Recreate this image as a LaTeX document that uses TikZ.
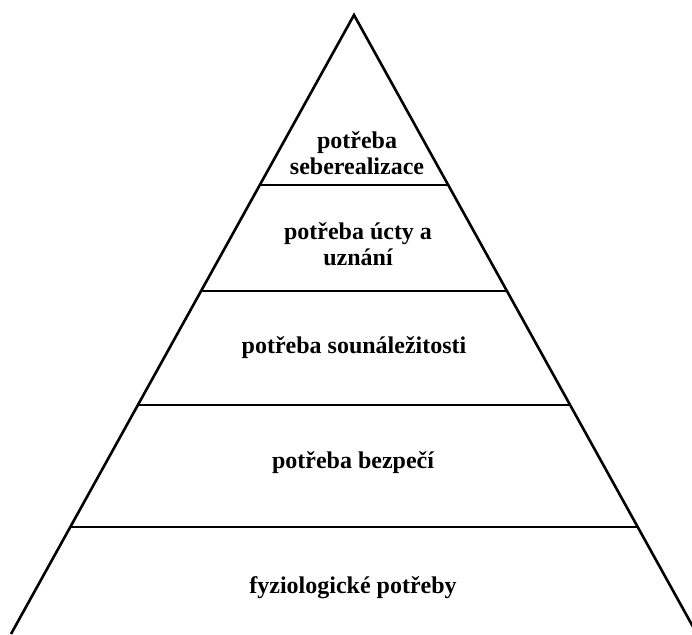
\documentclass[tikz,border=0pt]{standalone}
\usepackage{fontspec}
\setmainfont{Liberation Serif}
\usetikzlibrary{calc}
\tikzset{
  edge/.style={line width=2.6pt, black},
  level/.style={font=\bfseries\fontsize{24}{26.5}\selectfont, align=center, inner sep=0pt}
}
\begin{document}
\begin{tikzpicture}[x=1pt,y=-1pt]
\useasboundingbox (0,0) rectangle (692,634);
\coordinate (A) at (354,15);
\coordinate (BL) at (11,634);
\coordinate (BR) at (697,634);
\draw[edge, line join=miter] (BL) -- (A) -- (BR);
\foreach \t/\n in {0.2746/a,0.4459/b,0.6300/c,0.8271/d}{
  \coordinate (L\n) at ($(A)!\t!(BL)$);
  \coordinate (R\n) at ($(A)!\t!(BR)$);
  \draw[edge] (L\n) -- (R\n);
}
\node[level] (n1) at (357,153) {potřeba\\seberealizace};
\node[level] (n2) at (358,244) {potřeba úcty a\\uznání};
\node[level] (n3) at (354,348) {potřeba sounáležitosti};
\node[level] (n4) at (353,463) {potřeba bezpečí};
\node[level] (n5) at (353,588) {fyziologické potřeby};
\end{tikzpicture}
\end{document}
